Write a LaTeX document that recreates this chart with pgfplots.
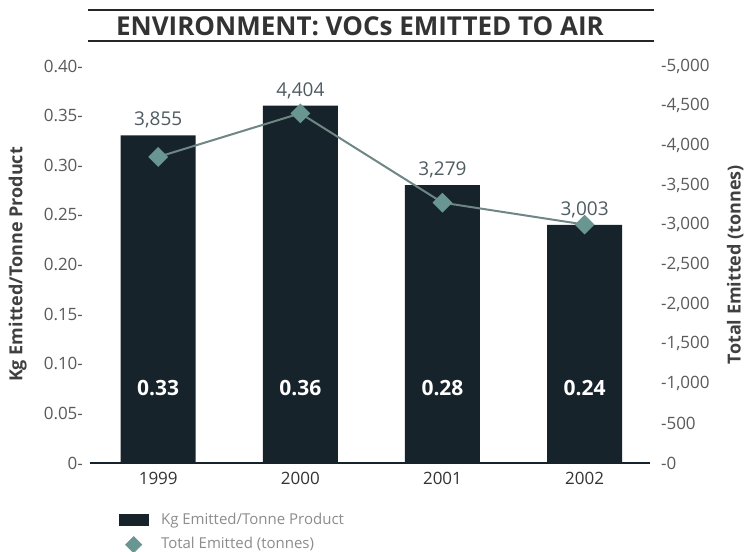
\documentclass[border=0pt]{standalone}
\usepackage{fontspec}
\setmainfont{Open Sans}
\usepackage{pgfplots}
\usepackage{pgfplotstable}
\pgfplotsset{compat=1.18}
\definecolor{barc}{HTML}{17232A}
\definecolor{linec}{HTML}{6E8684}
\definecolor{markc}{HTML}{6A9692}
\definecolor{tickc}{HTML}{5A5A5A}
\definecolor{lblc}{HTML}{4E5C62}
\pgfplotstableread{
x kg total lbl
0 0.33 3855 3,855
1 0.36 4404 4,404
2 0.28 3279 3,279
3 0.24 3003 3,003
}\datatable
\begin{document}
\begin{tikzpicture}
\useasboundingbox (0pt,0pt) rectangle (373pt,276pt);
\coordinate (O) at (45pt,44.5pt);
\draw[line width=1pt, black!85] (44pt,271pt) -- (327pt,271pt);
\draw[line width=1pt, black!85] (44pt,255.5pt) -- (327pt,255.5pt);
\node[font=\bfseries\fontsize{13}{15}\selectfont, text=black!80] at (180pt,263pt) {ENVIRONMENT: VOCs EMITTED TO AIR};
\begin{axis}[
  at={(O)}, anchor=south west,
  width=280pt, height=198.5pt, scale only axis,
  xmin=-0.48, xmax=3.46, ymin=0, ymax=0.4,
  axis x line*=bottom, axis y line*=left,
  x axis line style={line width=1.2pt, color=barc, -},
  y axis line style={draw=none},
  major tick length=0pt,
  xtick={0,1,2,3}, xticklabels={1999,2000,2001,2002},
  ytick={0,0.05,0.1,0.15,0.2,0.25,0.3,0.35,0.4},
  yticklabels={0-,0.05-,0.10-,0.15-,0.20-,0.25-,0.30-,0.35-,0.40-},
  yticklabel style={font=\fontsize{8.5}{10}\selectfont, text=tickc},
  xticklabel style={font=\fontsize{8.5}{10}\selectfont, text=black!80, yshift=-1pt},
  ylabel={Kg Emitted/Tonne Product},
  ylabel style={at={(axis description cs:-0.129,0.5)}, anchor=center, font=\bfseries\fontsize{9}{11}\selectfont, text=black!75},
  legend style={at={(axis description cs:0.039,-0.105)}, anchor=north west, draw=none, fill=none,
    font=\fontsize{7.5}{9}\selectfont, text=black!45, row sep=1pt, cells={anchor=west}},
]
\addplot[ybar, fill=barc, draw=none, bar width=37.5pt,
  nodes near coords, point meta=explicit symbolic,
  nodes near coords style={font=\fontsize{9.5}{11}\selectfont, text=lblc, yshift=0pt},
  legend image code/.code={\fill[barc] (0pt,-3pt) rectangle (15pt,3pt); \path (19pt,0pt);}]
  table[x=x, y=kg, meta=lbl]{\datatable};
\addlegendentry{Kg Emitted/Tonne Product}
\addlegendimage{legend image code/.code={\fill[markc] (7.5pt,-4pt) -- (11.5pt,0pt) -- (7.5pt,4pt) -- (3.5pt,0pt) -- cycle; \path (0pt,0pt) (19pt,0pt);}}
\addlegendentry{Total Emitted (tonnes)}
\addplot[draw=none, mark=none, forget plot,
  nodes near coords, point meta=explicit symbolic,
  nodes near coords style={anchor=center, text=white, font=\bfseries\fontsize{10.5}{12}\selectfont}]
  coordinates {(0,0.0756)[0.33] (1,0.0756)[0.36] (2,0.0756)[0.28] (3,0.0756)[0.24]};
\end{axis}
\begin{axis}[
  at={(O)}, anchor=south west,
  width=280pt, height=198.5pt, scale only axis,
  xmin=-0.48, xmax=3.46, ymin=0, ymax=5000,
  axis x line=none, axis y line*=right,
  y axis line style={draw=none},
  major tick length=0pt,
  ytick={0,500,1000,1500,2000,2500,3000,3500,4000,4500,5000},
  yticklabels={{-0},{-500},{-1,000},{-1,500},{-2,000},{-2,500},{-3,000},{-3,500},{-4,000},{-4,500},{-5,000}},
  yticklabel style={font=\fontsize{8.5}{10}\selectfont, text=tickc, xshift=2pt},
  ylabel={Total Emitted (tonnes)},
  ylabel style={at={(axis description cs:1.152,0.5)}, anchor=center, font=\bfseries\fontsize{9}{11}\selectfont, text=black!75},
]
\addplot[linec, line width=1pt, mark=square*, mark size=3pt,
  mark options={fill=markc, draw=markc, rotate=45, solid}]
  table[x=x, y=total]{\datatable};
\end{axis}
\end{tikzpicture}
\end{document}
